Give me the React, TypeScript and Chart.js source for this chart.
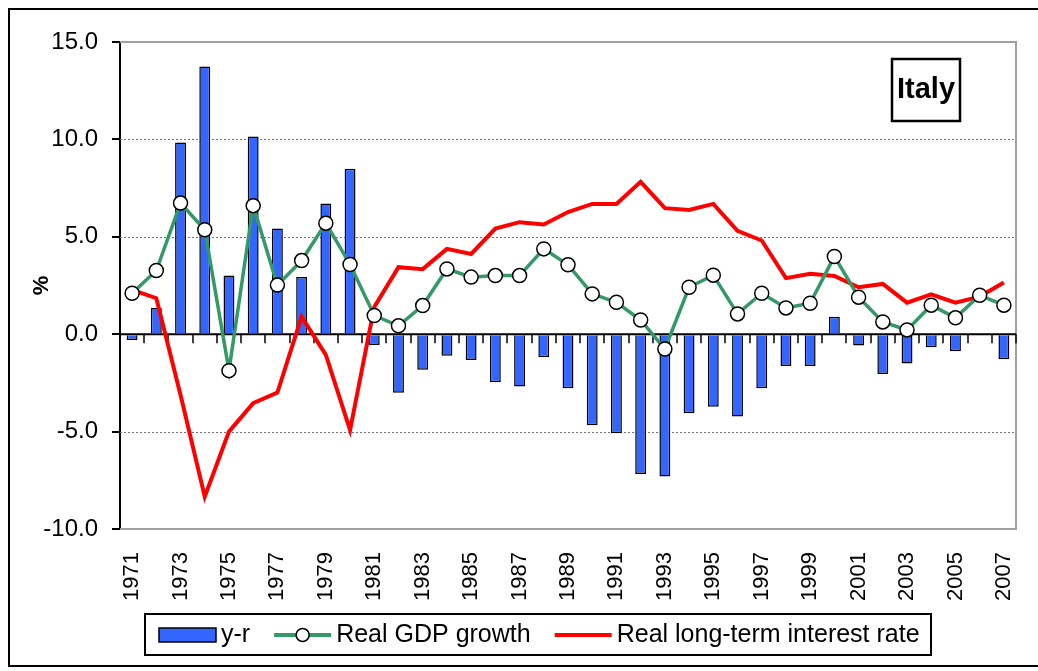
import React, { useEffect, useRef } from 'react';
import { Chart, registerables } from 'chart.js';

Chart.register(...registerables);

const years = [
  '1971', '1972', '1973', '1974', '1975', '1976', '1977', '1978', '1979', '1980',
  '1981', '1982', '1983', '1984', '1985', '1986', '1987', '1988', '1989', '1990',
  '1991', '1992', '1993', '1994', '1995', '1996', '1997', '1998', '1999', '2000',
  '2001', '2002', '2003', '2004', '2005', '2006', '2007',
];

const yMinusR = [
  -0.3, 1.34, 9.84, 13.74, 3.01, 10.15, 5.42, 2.93, 6.71, 8.49,
  -0.55, -3.0, -1.83, -1.1, -1.32, -2.47, -2.69, -1.18, -2.77, -4.67,
  -5.09, -7.18, -7.3, -4.06, -3.72, -4.23, -2.77, -1.63, -1.63, 0.9,
  -0.58, -2.04, -1.51, -0.67, -0.87, 0.0, -1.28,
];

const gdpGrowth = [
  2.1, 3.27, 6.73, 5.36, -1.87, 6.6, 2.52, 3.78, 5.7, 3.58,
  0.96, 0.43, 1.47, 3.35, 2.93, 3.01, 3.01, 4.38, 3.56, 2.07,
  1.64, 0.73, -0.76, 2.41, 3.03, 1.04, 2.1, 1.35, 1.59, 3.99,
  1.9, 0.63, 0.22, 1.49, 0.84, 2.0, 1.49,
];

const realRate = [
  2.28, 1.85, -3.12, -8.34, -5.0, -3.54, -3.0, 0.9, -1.06, -4.92,
  1.4, 3.44, 3.34, 4.38, 4.12, 5.42, 5.75, 5.63, 6.27, 6.69,
  6.69, 7.82, 6.47, 6.38, 6.69, 5.31, 4.81, 2.88, 3.1, 2.99,
  2.41, 2.58, 1.62, 2.05, 1.62, 1.93, 2.65,
];

const seriesNames = ['y-r', 'Real GDP growth', 'Real long-term interest rate'];
const countryName = 'Italy';
const axisTitle = '%';

const FONT = '"Liberation Sans", Arial, Helvetica, sans-serif';

const decorPlugin = {
  id: 'decor',
  beforeDraw(chart: any) {
    const { ctx, width, height } = chart;
    ctx.save();
    ctx.fillStyle = '#ffffff';
    ctx.fillRect(0, 0, width, height);
    ctx.restore();
  },
  beforeDatasetsDraw(chart: any) {
    const { ctx, chartArea, scales } = chart;
    const { left, right, top, bottom } = chartArea;
    const y = scales.y;
    const x = scales.x;
    ctx.save();
    ctx.strokeStyle = '#707070';
    ctx.lineWidth = 1;
    ctx.setLineDash([2, 2]);
    y.ticks.forEach((t: any) => {
      if (t.value === 0 || t.value === y.max || t.value === y.min) return;
      const py = Math.round(y.getPixelForValue(t.value)) + 0.5;
      ctx.beginPath();
      ctx.moveTo(left, py);
      ctx.lineTo(right, py);
      ctx.stroke();
    });
    ctx.setLineDash([]);
    ctx.strokeStyle = '#a0a0a0';
    ctx.lineWidth = 2;
    ctx.beginPath();
    ctx.moveTo(left, top);
    ctx.lineTo(right, top);
    ctx.lineTo(right, bottom);
    ctx.lineTo(left, bottom);
    ctx.stroke();
    const y0 = y.getPixelForValue(0);
    ctx.strokeStyle = '#000000';
    ctx.lineWidth = 2;
    ctx.beginPath();
    ctx.moveTo(left, y0);
    ctx.lineTo(right, y0);
    ctx.stroke();
    ctx.lineWidth = 1.5;
    for (let i = 0; i <= years.length; i++) {
      const px = Math.round(x.getPixelForValue(i - 0.5));
      ctx.beginPath();
      ctx.moveTo(px, y0);
      ctx.lineTo(px, y0 + 9);
      ctx.stroke();
    }
    ctx.restore();
  },
  afterDraw(chart: any) {
    const { ctx, data } = chart;
    ctx.save();
    ctx.fillStyle = '#ffffff';
    ctx.fillRect(892, 59, 68, 62);
    ctx.strokeStyle = '#000000';
    ctx.lineWidth = 2.5;
    ctx.strokeRect(892, 59, 68, 62);
    ctx.fillStyle = '#000000';
    ctx.font = `bold 29px ${FONT}`;
    ctx.textAlign = 'center';
    ctx.textBaseline = 'middle';
    ctx.fillText(countryName, 926, 90);

    const bx0 = 145, by0 = 614, bx1 = 931, by1 = 655;
    ctx.fillStyle = '#ffffff';
    ctx.fillRect(bx0, by0, bx1 - bx0, by1 - by0);
    ctx.strokeStyle = '#000000';
    ctx.lineWidth = 2;
    ctx.strokeRect(bx0, by0, bx1 - bx0, by1 - by0);
    ctx.font = `25px ${FONT}`;
    ctx.textAlign = 'left';
    ctx.textBaseline = 'middle';
    const cy = 635;
    let cx = 159;
    const sw = 57;
    data.datasets.forEach((ds: any, i: number) => {
      if (i === 0) {
        ctx.fillStyle = ds.backgroundColor;
        ctx.fillRect(cx, cy - 7, sw, 14);
        ctx.strokeStyle = '#000';
        ctx.lineWidth = 1.5;
        ctx.strokeRect(cx, cy - 7, sw, 14);
      } else {
        ctx.strokeStyle = ds.borderColor;
        ctx.lineWidth = 4;
        ctx.beginPath();
        ctx.moveTo(cx, cy);
        ctx.lineTo(cx + sw, cy);
        ctx.stroke();
        if (ds.pointRadius > 0) {
          ctx.beginPath();
          ctx.arc(cx + sw / 2, cy, 6.5, 0, Math.PI * 2);
          ctx.fillStyle = '#ffffff';
          ctx.fill();
          ctx.strokeStyle = '#000';
          ctx.lineWidth = 1.5;
          ctx.stroke();
        }
      }
      cx += sw + 5;
      ctx.fillStyle = '#000000';
      ctx.fillText(ds.label, cx, cy);
      cx += ctx.measureText(ds.label).width + 24;
    });

    ctx.strokeStyle = '#000000';
    ctx.lineWidth = 2;
    ctx.strokeRect(9, 9, 1040, 657);
    ctx.restore();
  },
};

export default function App() {
  const canvasRef = useRef<HTMLCanvasElement | null>(null);

  useEffect(() => {
    document.body.style.margin = '0';
    document.body.style.overflow = 'hidden';
    const canvas = canvasRef.current;
    if (!canvas) return;
    const chart = new Chart(canvas, {
      type: 'bar',
      data: {
        labels: years,
        datasets: [
          {
            type: 'bar',
            label: seriesNames[0],
            data: yMinusR,
            backgroundColor: '#3366FF',
            borderColor: '#000000',
            borderWidth: 1.5,
            barPercentage: 0.45,
            categoryPercentage: 1,
            order: 3,
          } as any,
          {
            type: 'line',
            label: seriesNames[1],
            data: gdpGrowth,
            borderColor: '#339966',
            borderWidth: 3.5,
            pointRadius: 7,
            pointBackgroundColor: '#ffffff',
            pointBorderColor: '#000000',
            pointBorderWidth: 1.5,
            tension: 0,
            order: 1,
          } as any,
          {
            type: 'line',
            label: seriesNames[2],
            data: realRate,
            borderColor: '#FF0000',
            borderWidth: 4,
            pointRadius: 0,
            tension: 0,
            order: 2,
          } as any,
        ],
      },
      options: {
        animation: false,
        responsive: false,
        devicePixelRatio: 1,
        layout: { padding: { top: 42, right: 22, left: 0, bottom: 0 } },
        plugins: {
          legend: { display: false },
          tooltip: { enabled: false },
        },
        scales: {
          x: {
            grid: { display: false, drawTicks: false },
            border: { display: false },
            ticks: {
              autoSkip: false,
              maxRotation: 90,
              minRotation: 90,
              padding: 23,
              color: '#000000',
              font: { family: FONT, size: 22 },
              callback: (_v: any, idx: number) => (idx % 2 === 0 ? years[idx] : ''),
            },
            afterFit: (scale: any) => {
              scale.height = 142;
              scale.paddingLeft = 0;
              scale.paddingRight = 0;
            },
          },
          y: {
            min: -10,
            max: 15,
            grid: {
              drawOnChartArea: false,
              drawTicks: true,
              tickLength: 8,
              color: '#000000',
              lineWidth: 2,
            },
            border: { display: true, color: '#000000', width: 2 },
            ticks: {
              stepSize: 5,
              padding: 14,
              color: '#000000',
              font: { family: FONT, size: 24 },
              callback: (v: any) => Number(v).toFixed(1),
            },
            title: {
              display: true,
              text: axisTitle,
              color: '#000000',
              font: { family: FONT, size: 22, weight: 'bold' },
              padding: { top: 29, bottom: 0 },
            },
            afterFit: (scale: any) => {
              scale.width = 120;
              scale.paddingTop = 0;
              scale.paddingBottom = 0;
            },
          },
        },
      } as any,
      plugins: [decorPlugin],
    });
    return () => chart.destroy();
  }, []);

  return (
    <div style={{ width: 1038, height: 671, overflow: 'hidden' }}>
      <canvas ref={canvasRef} width={1038} height={671} style={{ display: 'block' }} />
    </div>
  );
}
